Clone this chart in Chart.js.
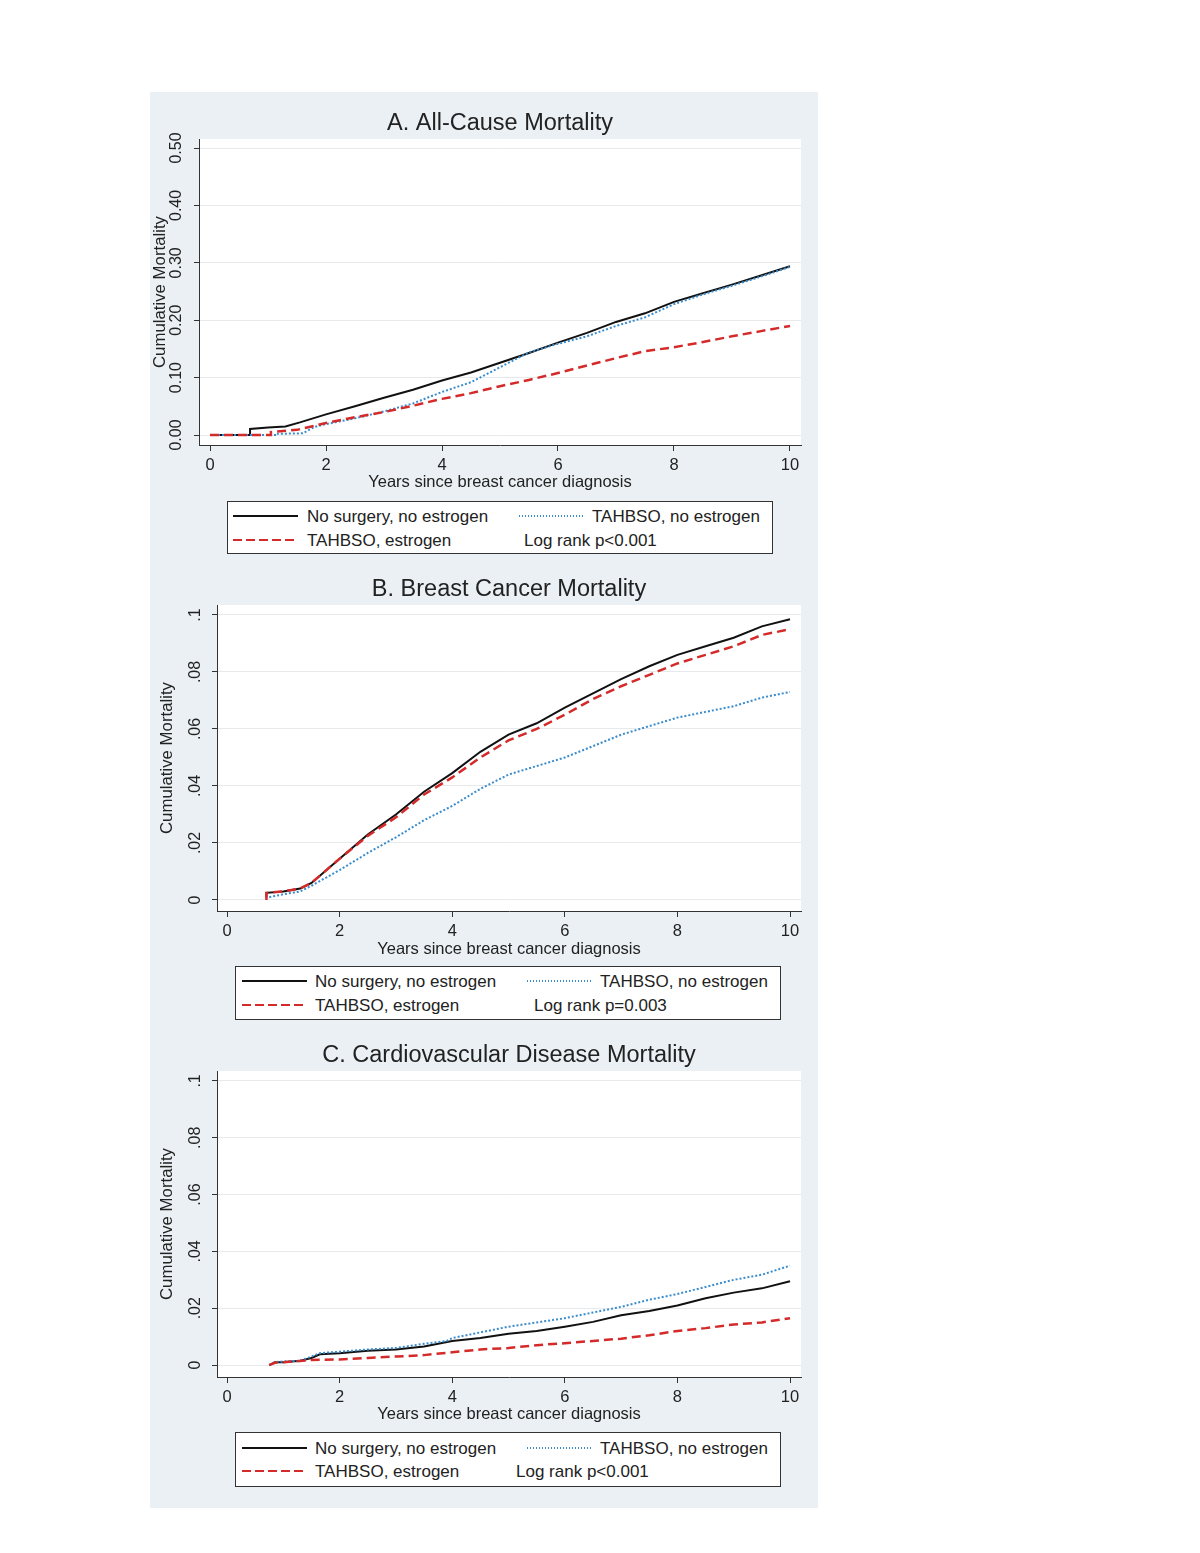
<!DOCTYPE html>
<html><head><meta charset="utf-8">
<script src="https://cdn.jsdelivr.net/npm/chart.js@4.4.1/dist/chart.umd.min.js"></script>
<style>
body{margin:0;background:#fff;width:1200px;height:1553px;position:relative;overflow:hidden;font-family:"Liberation Sans",Arial,sans-serif;color:#222}
#bg{position:absolute;left:150px;top:92px;width:668px;height:1416px;background:#eaf0f3}
canvas{position:absolute}
.leg{position:absolute;background:#fff;border:1px solid #333;box-sizing:border-box;width:546px}
.leg .t{position:absolute;font-size:17px;height:20px;line-height:20px;white-space:nowrap;color:#222}
.leg .s{position:absolute;width:65px}
.solid{height:2px;background:#111}
.dash{height:2px;background:repeating-linear-gradient(90deg,#d42a2a 0 9px,transparent 9px 13px)}
.dot{height:2px;background:repeating-linear-gradient(90deg,#3a8ccc 0 1.5px,transparent 1.5px 3px)}
</style></head><body>
<div id="bg"></div>
<canvas id="cA" width="668" height="404" style="left:150px;top:92px"></canvas>
<canvas id="cB" width="668" height="402" style="left:150px;top:560px"></canvas>
<canvas id="cC" width="668" height="403" style="left:150px;top:1025px"></canvas>
<div id="legends"></div>
<script>
// ---------- DATA ----------
const seriesLabels = ['No surgery, no estrogen', 'TAHBSO, no estrogen', 'TAHBSO, estrogen'];
const panelTitles = ['A. All-Cause Mortality', 'B. Breast Cancer Mortality', 'C. Cardiovascular Disease Mortality'];
const logRankTexts = ['Log rank p<0.001', 'Log rank p=0.003', 'Log rank p<0.001'];
const xTicks = [0, 2, 4, 6, 8, 10];
const xTickLabels = ['0', '2', '4', '6', '8', '10'];
const yTicksA = [0, 0.1, 0.2, 0.3, 0.4, 0.5];
const yTickLabelsA = ['0.00', '0.10', '0.20', '0.30', '0.40', '0.50'];
const yTicksBC = [0, 0.02, 0.04, 0.06, 0.08, 0.1];
const yTickLabelsBC = ['0', '.02', '.04', '.06', '.08', '.1'];

// Panel A: All-cause
const aBlackX = [0, 0.69, 0.69, 1.0, 1.3, 1.55, 2.0, 2.5, 3.0, 3.5, 4.0, 4.5, 5.0, 5.5, 6.0, 6.5, 7.0, 7.5, 8.0, 8.5, 9.0, 9.5, 10.0];
const aBlackY = [0, 0, 0.0105, 0.013, 0.015, 0.022, 0.036, 0.05, 0.065, 0.079, 0.095, 0.109, 0.126, 0.143, 0.161, 0.178, 0.197, 0.212, 0.232, 0.247, 0.262, 0.278, 0.294];
const aBlueX = [0, 1.15, 1.15, 1.6, 1.8, 2.0, 2.5, 3.0, 3.5, 4.0, 4.5, 5.0, 5.5, 6.0, 6.5, 7.0, 7.5, 8.0, 8.5, 9.0, 9.5, 10.0];
const aBlueY = [0, 0, 0.002, 0.003, 0.014, 0.019, 0.029, 0.041, 0.055, 0.075, 0.092, 0.118, 0.144, 0.159, 0.172, 0.19, 0.205, 0.228, 0.245, 0.26, 0.276, 0.293];
const aRedX = [0, 1.05, 1.05, 1.5, 2.0, 2.5, 3.0, 3.5, 4.0, 4.5, 5.0, 5.5, 6.0, 6.5, 7.0, 7.5, 8.0, 8.5, 9.0, 9.5, 10.0];
const aRedY = [0, 0, 0.005, 0.009, 0.021, 0.031, 0.04, 0.051, 0.063, 0.073, 0.085, 0.096, 0.108, 0.121, 0.134, 0.146, 0.153, 0.162, 0.172, 0.181, 0.19];

// Panel B: Breast cancer
const bBlackX = [0.7, 0.7, 1.0, 1.3, 1.5, 2.0, 2.5, 3.0, 3.5, 4.0, 4.5, 5.0, 5.5, 6.0, 6.5, 7.0, 7.5, 8.0, 8.5, 9.0, 9.5, 10.0];
const bBlackY = [0.001, 0.0025, 0.003, 0.004, 0.006, 0.0145, 0.023, 0.03, 0.038, 0.0445, 0.052, 0.058, 0.062, 0.0675, 0.0725, 0.0775, 0.082, 0.086, 0.089, 0.092, 0.096, 0.0985];
const bBlueX = [0.75, 1.0, 1.3, 1.5, 2.0, 2.5, 3.0, 3.5, 4.0, 4.5, 5.0, 5.5, 6.0, 6.5, 7.0, 7.5, 8.0, 8.5, 9.0, 9.5, 10.0];
const bBlueY = [0.001, 0.002, 0.003, 0.005, 0.0105, 0.0165, 0.022, 0.028, 0.033, 0.039, 0.044, 0.047, 0.05, 0.054, 0.058, 0.061, 0.064, 0.066, 0.068, 0.071, 0.073];
const bRedX = [0.7, 0.7, 1.0, 1.3, 1.5, 2.0, 2.5, 3.0, 3.5, 4.0, 4.5, 5.0, 5.5, 6.0, 6.5, 7.0, 7.5, 8.0, 8.5, 9.0, 9.5, 10.0];
const bRedY = [0, 0.0025, 0.003, 0.004, 0.006, 0.0145, 0.0225, 0.029, 0.037, 0.043, 0.05, 0.056, 0.06, 0.065, 0.0705, 0.075, 0.079, 0.083, 0.086, 0.089, 0.093, 0.095];

// Panel C: Cardiovascular
const cBlackX = [0.75, 0.85, 1.0, 1.3, 1.5, 1.65, 2.0, 2.5, 3.0, 3.5, 4.0, 4.5, 5.0, 5.5, 6.0, 6.5, 7.0, 7.5, 8.0, 8.5, 9.0, 9.5, 10.0];
const cBlackY = [0, 0.001, 0.001, 0.0015, 0.0025, 0.0038, 0.0042, 0.005, 0.0055, 0.0065, 0.0085, 0.0095, 0.011, 0.012, 0.0135, 0.0152, 0.0175, 0.019, 0.021, 0.0235, 0.0255, 0.027, 0.0295];
const cBlueX = [0.75, 0.85, 1.0, 1.3, 1.5, 1.65, 2.0, 2.5, 3.0, 3.5, 3.9, 4.0, 4.5, 5.0, 5.5, 6.0, 6.5, 7.0, 7.5, 8.0, 8.5, 9.0, 9.5, 10.0];
const cBlueY = [0, 0.001, 0.0013, 0.0015, 0.003, 0.0042, 0.0047, 0.0055, 0.006, 0.0075, 0.0085, 0.0095, 0.0115, 0.0135, 0.015, 0.0165, 0.0185, 0.0205, 0.023, 0.025, 0.0275, 0.03, 0.0318, 0.035];
const cRedX = [0.75, 0.85, 1.0, 1.5, 2.0, 2.5, 3.0, 3.5, 4.0, 4.5, 5.0, 5.5, 6.0, 6.5, 7.0, 7.5, 8.0, 8.5, 9.0, 9.5, 10.0];
const cRedY = [0, 0.0008, 0.001, 0.0018, 0.002, 0.0025, 0.003, 0.0035, 0.0045, 0.0055, 0.006, 0.007, 0.0077, 0.0085, 0.0093, 0.0105, 0.012, 0.013, 0.0143, 0.015, 0.0165];

// ---------- STYLE / RENDER ----------
const FONT = '"Liberation Sans", Arial, sans-serif';
const BLACK = '#111', BLUE = '#3a8ccc', RED = '#d42a2a';

const whiteArea = {
  id: 'whiteArea',
  beforeDraw(chart) {
    const a = chart.chartArea, c = chart.ctx;
    c.save(); c.fillStyle = '#fff';
    c.fillRect(a.left, a.top, a.right - a.left, a.bottom - a.top);
    c.restore();
  }
};
const yLab = {
  id: 'yLab',
  afterDraw(chart, args, o) {
    const c = chart.ctx, s = chart.scales.y;
    c.save();
    c.fillStyle = '#222';
    c.font = '16px ' + FONT;
    c.textAlign = 'center'; c.textBaseline = 'middle';
    o.values.forEach((v, i) => {
      const p = s.getPixelForValue(v);
      c.save(); c.translate(o.x, p); c.rotate(-Math.PI / 2);
      c.fillText(o.labels[i], 0, 0);
      c.restore();
    });
    c.restore();
  }
};

function pts(xs, ys) { return xs.map((x, i) => ({ x: x, y: ys[i] })); }

function panel(id, o) {
  const ds = [
    { label: seriesLabels[2], data: pts(o.red[0], o.red[1]), borderColor: RED, borderWidth: 2.5, borderDash: [9, 5], order: 0 },
    { label: seriesLabels[1], data: pts(o.blue[0], o.blue[1]), borderColor: BLUE, borderWidth: 2, borderDash: [2, 2], order: 1 },
    { label: seriesLabels[0], data: pts(o.black[0], o.black[1]), borderColor: BLACK, borderWidth: 2, order: 2 }
  ].map(d => Object.assign(d, { pointRadius: 0, tension: 0, fill: false }));
  return new Chart(document.getElementById(id), {
    type: 'line',
    data: { datasets: ds },
    options: {
      responsive: false, animation: false, devicePixelRatio: 1,
      layout: { padding: { top: 0, left: 0, right: 17, bottom: 0 } },
      plugins: {
        legend: { display: false }, tooltip: { enabled: false },
        title: { display: true, text: o.title, fullSize: false, color: '#222',
                 font: { family: FONT, size: 23.5, weight: 'normal' }, padding: { top: o.titleTop, bottom: 0.9 } },
        yLab: { values: o.yTicks, labels: o.yLabels, x: o.yLabX }
      },
      scales: {
        x: {
          type: 'linear', min: o.xMin, max: o.xMax,
          afterBuildTicks: s => { s.ticks = xTicks.map(v => ({ value: v })); },
          afterFit: s => { s.height = 51; },
          ticks: { autoSkip: false, maxRotation: 0, color: '#222', font: { family: FONT, size: 16.5 }, padding: 5,
                   callback: (v, i) => xTickLabels[i] },
          grid: { display: true, drawOnChartArea: false, drawTicks: true, tickLength: 6, tickColor: '#333', tickWidth: 1 },
          border: { display: true, color: '#333', width: 1 },
          title: { display: true, text: 'Years since breast cancer diagnosis', color: '#222',
                   font: { family: FONT, size: 16.5 }, padding: { top: 0, bottom: o.xTitlePad } }
        },
        y: {
          type: 'linear', min: o.yMin, max: o.yMax,
          afterBuildTicks: s => { s.ticks = o.yTicks.map(v => ({ value: v })); },
          afterFit: s => { s.width = o.yW; },
          ticks: { display: false },
          grid: { display: true, drawOnChartArea: true, color: '#e6eaec', lineWidth: 1, drawTicks: true, tickLength: 5, tickColor: '#333', tickWidth: 1 },
          border: { display: true, color: '#333', width: 1 },
          title: { display: true, text: 'Cumulative Mortality', color: '#222',
                   font: { family: FONT, size: 16.8 }, padding: { top: o.yTitlePad, bottom: 0 } }
        }
      }
    },
    plugins: [whiteArea, yLab]
  });
}

panel('cA', { title: panelTitles[0], titleTop: 17.9, black: [aBlackX, aBlackY], blue: [aBlueX, aBlueY], red: [aRedX, aRedY],
  xMin: -0.19, xMax: 10.19, yMin: -0.0174, yMax: 0.5157, yTicks: yTicksA, yLabels: yTickLabelsA, yLabX: 27, yW: 49, yTitlePad: 0, xTitlePad: 4.1 });
panel('cB', { title: panelTitles[1], titleTop: 15.9, black: [bBlackX, bBlackY], blue: [bBlueX, bBlueY], red: [bRedX, bRedY],
  xMin: -0.178, xMax: 10.195, yMin: -0.00386, yMax: 0.1035, yTicks: yTicksBC, yLabels: yTickLabelsBC, yLabX: 46, yW: 67, yTitlePad: 7, xTitlePad: 3.1 });
panel('cC', { title: panelTitles[2], titleTop: 16.9, black: [cBlackX, cBlackY], blue: [cBlueX, cBlueY], red: [cRedX, cRedY],
  xMin: -0.178, xMax: 10.195, yMin: -0.0042, yMax: 0.1035, yTicks: yTicksBC, yLabels: yTickLabelsBC, yLabX: 46, yW: 67, yTitlePad: 7, xTitlePad: 4.1 });

// ---------- LEGENDS (HTML) ----------
const legendBoxes = [
  { left: 227, top: 501, h: 53, r1: 15, r2: 39, s1: 6, t1: 80, s2: 292, t2: 365, lr: 297 },
  { left: 235, top: 966, h: 54, r1: 15, r2: 39, s1: 7, t1: 80, s2: 292, t2: 365, lr: 299 },
  { left: 235, top: 1432, h: 55, r1: 16, r2: 39, s1: 7, t1: 80, s2: 292, t2: 365, lr: 281 }
];
const host = document.getElementById('legends');
legendBoxes.forEach((b, k) => {
  const d = document.createElement('div');
  d.className = 'leg';
  d.style.cssText = `left:${b.left}px;top:${b.top}px;height:${b.h}px`;
  const add = (cls, css, txt) => {
    const e = document.createElement('div'); e.className = cls; e.style.cssText = css;
    if (txt) e.textContent = txt; d.appendChild(e);
  };
  add('s solid', `left:${b.s1 - 1}px;top:${b.r1 - 2}px`);
  add('t', `left:${b.t1 - 1}px;top:${b.r1 - 10}px`, seriesLabels[0]);
  add('s dot', `left:${b.s2 - 1}px;top:${b.r1 - 2}px`);
  add('t', `left:${b.t2 - 1}px;top:${b.r1 - 10}px`, seriesLabels[1]);
  add('s dash', `left:${b.s1 - 1}px;top:${b.r2 - 2}px`);
  add('t', `left:${b.t1 - 1}px;top:${b.r2 - 10}px`, seriesLabels[2]);
  add('t', `left:${b.lr - 1}px;top:${b.r2 - 10}px`, logRankTexts[k]);
  host.appendChild(d);
});
</script>
</body></html>
